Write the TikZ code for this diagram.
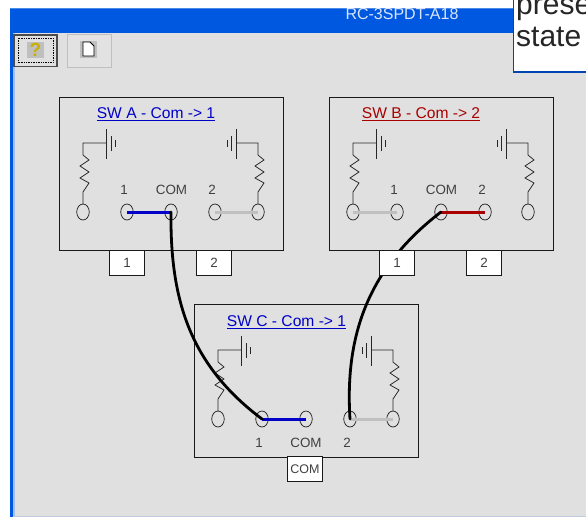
\documentclass[tikz,border=0pt]{standalone}
\usepackage{fontspec}
\setmainfont{Liberation Sans}
\usetikzlibrary{shapes.geometric}
\definecolor{winbg}{HTML}{E0E0E0}
\definecolor{winblue}{HTML}{0058E0}
\definecolor{onblue}{HTML}{0000C8}
\definecolor{onred}{HTML}{AA0000}
\definecolor{offgrey}{HTML}{C0C0C0}
\definecolor{helpyellow}{HTML}{C8B000}
\tikzset{
  x=1pt,y=-1pt,
  thinline/.style={draw=black!85,line width=0.75pt},
  term/.style={ellipse,draw=black!85,line width=0.75pt,minimum width=12.5pt,minimum height=16pt,inner sep=0pt,outer sep=0pt},
  panel/.style={draw=black!90,line width=0.9pt},
  tag/.style={rectangle,draw=black!90,fill=white,line width=0.7pt,minimum width=35pt,minimum height=25pt,inner sep=0pt,font=\fontsize{13.4}{14}\selectfont,text=black!75},
  termlabel/.style={inner sep=0pt,font=\fontsize{13.4}{14}\selectfont,text=black!75},
  swtitle/.style={inner sep=0pt,font=\fontsize{15.6}{17}\selectfont},
  contact/.style={line width=3pt},
  jumper/.style={draw=black,line width=2.8pt,line cap=round},
  btn/.style={fill=winbg!92!white,draw=black!25,line width=0.8pt},
  switchcore/.pic={
    \draw[panel] (0,0) rectangle (224,153);
    % batteries
    \draw[thinline] (47.5,32) -- (47.5,62) (52,39) -- (52,54) (56,43) -- (56,50);
    \draw[thinline] (177,32) -- (177,62) (172.5,39) -- (172.5,54) (168,43) -- (168,50);
    % terminals
    \node[term] (-t0) at (24,115) {};
    \node[term] (-t1) at (68,115) {};
    \node[term] (-t2) at (112,115) {};
    \node[term] (-t3) at (156,115) {};
    \node[term] (-t4) at (199,115) {};
    % resistors and wires
    \draw[thinline] (47.5,46) -- (24,46) -- (24,58) -- (30,63) -- (21,69) -- (30,75) -- (21,81) -- (30,86) -- (24,95) -- (-t0.north);
    \draw[thinline] (177,46) -- (199,46) -- (199,58) -- (205,63) -- (196,69) -- (205,75) -- (196,81) -- (205,86) -- (199,95) -- (-t4.north);
  }
}
\begin{document}
\begin{tikzpicture}
\useasboundingbox (0,0) rectangle (586,517);
% window
\fill[white] (0,0) rectangle (586,517);
\fill[winbg] (10,8) rectangle (586,517);
\fill[winblue!25!winbg] (13,33) rectangle (14.5,517);
\fill[winblue!15!winbg] (13,515.5) rectangle (586,517);
\fill[winblue] (10,8) rectangle (13,517);
\fill[winblue] (10,8) rectangle (586,33);
\fill[winblue!70!white] (10,7.5) rectangle (586,9);
\node[inner sep=0pt,text=white!85!winblue,font=\fontsize{16}{18}\selectfont] (wintitle) at (402,13.5) {RC-3SPDT-A18};
% callout, cropped by the frame
\begin{scope}
  \clip (0,0) rectangle (586,517);
  \fill[white,draw=winblue!80!black,line width=1.3pt] (513.5,-10) rectangle (600,72);
  \node[anchor=base west,inner sep=0pt,text=black!85,font=\fontsize{30}{32}\selectfont] (prese) at (516,14) {prese};
  \node[anchor=base west,inner sep=0pt,text=black!85,font=\fontsize{30}{32}\selectfont] (state) at (516,46) {state};
\end{scope}
% toolbar
\draw[fill=winbg,draw=black!70,line width=1.2pt] (14,35) rectangle (57,66.5);
\draw[black,densely dotted,line width=0.7pt] (18,38) rectangle (53,62.5);
\fill[black!25] (27,42) rectangle (44,58);
\node[inner sep=0pt,text=helpyellow,font=\bfseries\fontsize{19}{20}\selectfont] (helpmark) at (35.5,50) {?};
\draw[btn] (67.5,34.5) rectangle (111,67);
\fill[black!25] (80,41) rectangle (97,58);
\draw[fill=white,draw=black,line width=0.9pt] (83,42) -- (90,42) -- (94,46) -- (94,56) -- (83,56) -- cycle;
% panels
\pic (A) at (59,97) {switchcore};
\pic (B) at (329,97) {switchcore};
\pic (C) at (194,304) {switchcore};
% switch titles
\node[swtitle,text=onblue] (Atitle) at (156,114.5) {\underline{SW A - Com -> 1}};
\node[swtitle,text=onred] (Btitle) at (421,114.5) {\underline{SW B - Com -> 2}};
\node[swtitle,text=onblue] (Ctitle) at (286.5,322) {\underline{SW C - Com -> 1}};
% terminal labels
\node[termlabel] (A1) at (124,190) {1};
\node[termlabel] (Acom) at (171.5,190) {COM};
\node[termlabel] (A2) at (212,190) {2};
\node[termlabel] (B1) at (394,190) {1};
\node[termlabel] (Bcom) at (441.5,190) {COM};
\node[termlabel] (B2) at (482,190) {2};
\node[termlabel] (C1) at (259,442.5) {1};
\node[termlabel] (Ccom) at (306,442.5) {COM};
\node[termlabel] (C2) at (347,442.5) {2};
% contact bars
\draw[contact,onblue] (A-t1.center) -- (A-t2.center);
\draw[contact,offgrey] (A-t3.center) -- (A-t4.center);
\draw[contact,offgrey] (B-t0.center) -- (B-t1.center);
\draw[contact,onred] (B-t2.center) -- (B-t3.center);
\draw[contact,onblue] (C-t1.center) -- (C-t2.center);
\draw[contact,offgrey] (C-t3.center) -- (C-t4.center);
% jumpers
\draw[jumper] (A-t2.center) .. controls (170,300) and (190,365) .. (C-t1.center);
\draw[jumper] (B-t2.center) .. controls (365,270) and (345,340) .. (C-t3.center);
% tags
\node[tag] (Atag1) at (127,262.5) {1};
\node[tag] (Atag2) at (214,262.5) {2};
\node[tag] (Btag1) at (397,262.5) {1};
\node[tag] (Btag2) at (484,262.5) {2};
\node[tag,font=\fontsize{12.5}{14}\selectfont] (Ctag) at (305,469) {COM};
\end{tikzpicture}
\end{document}
